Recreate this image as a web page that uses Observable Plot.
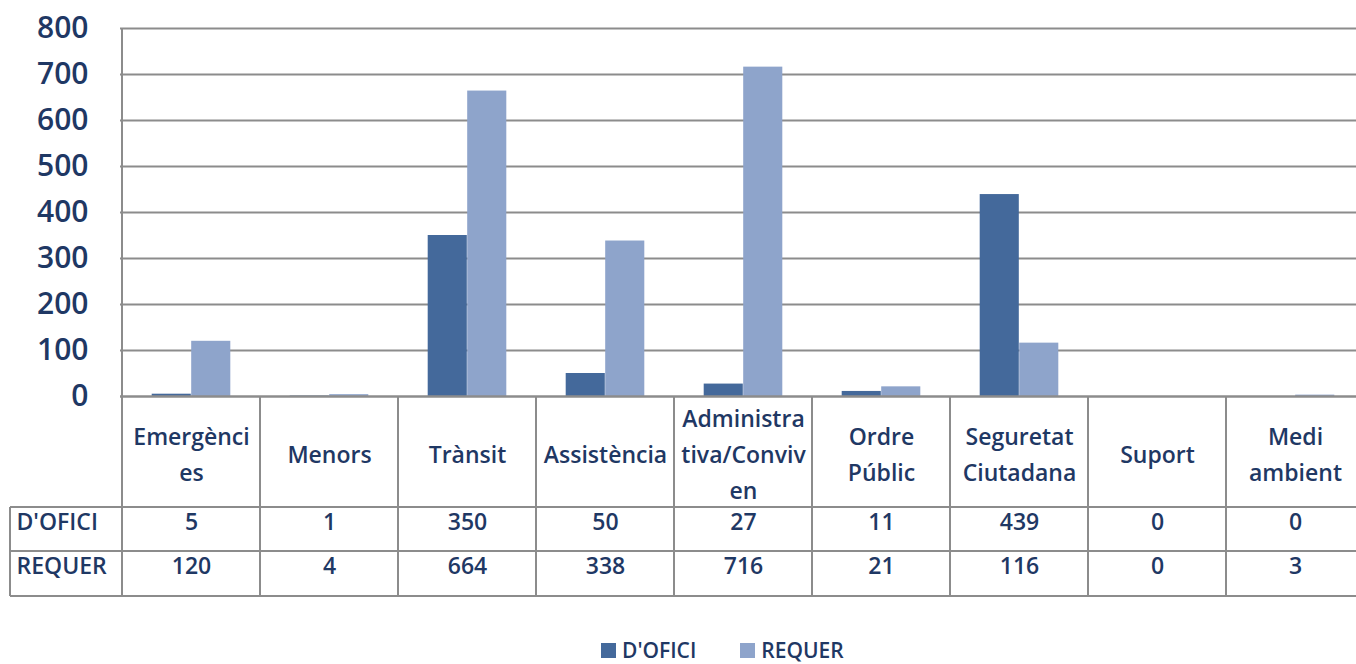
<!DOCTYPE html>
<html>
<head>
<meta charset="utf-8">
<script src="https://cdn.jsdelivr.net/npm/d3@7"></script>
<script src="https://cdn.jsdelivr.net/npm/@observablehq/plot@0.6"></script>
<style>
html, body { margin: 0; padding: 0; background: #fff; overflow: hidden; width: 1356px; height: 664px; }
#chart { position: absolute; left: 0; top: 0; width: 1356px; height: 610px; overflow: hidden; }
#chart svg { display: block; max-width: none !important; width: 1366px; height: 610px; }
.legend { position: absolute; top: 640px; left: 601px; display: flex; align-items: center;
  font-family: "Open Sans", sans-serif; font-weight: 600; font-size: 21px; line-height: 20px; color: #1f3864; }
.legend .item { display: flex; align-items: center; margin-right: 44px; }
.legend .sw { width: 15px; height: 15px; margin-right: 6px; }
</style>
</head>
<body>
<div id="chart"></div>
<div class="legend" id="legend"></div>
<script>
// ---- data ----
const categories = ["Emergènci\nes", "Menors", "Trànsit", "Assistència", "Administra\ntiva/Conviv\nen", "Ordre\nPúblic", "Seguretat\nCiutadana", "Suport", "Medi\nambient"];
const seriesNames = ["D'OFICI", "REQUER"];
const dOfici = [5, 1, 350, 50, 27, 11, 439, 0, 0];
const requer = [120, 4, 664, 338, 716, 21, 116, 0, 3];
const yTicks = [0, 100, 200, 300, 400, 500, 600, 700, 800];
const colors = ["#44699b", "#8ea4cb"];

const textColor = "#1f3864";
const lineColor = "#8c8c8c";

const rowsO = categories.map((c, i) => ({cat: c, series: seriesNames[0], value: dOfici[i]}));
const rowsR = categories.map((c, i) => ({cat: c, series: seriesNames[1], value: requer[i]}));

const W = 1366, H = 610, mT = 28, mB = 214, mL = 120;

function tableLines(index, scales, values, dimensions) {
  const x = scales.x;
  const bw = typeof x.bandwidth === "function" ? x.bandwidth() : (x(categories[1]) - x(categories[0]));
  const top = dimensions.height - dimensions.marginBottom;
  const right = dimensions.width - dimensions.marginRight;
  const g = d3.create("svg:g").attr("stroke", lineColor).attr("stroke-width", 2).attr("fill", "none");
  const rowLines = [top + 111, top + 155, top + 200];
  for (const yy of rowLines) g.append("line").attr("x1", 10).attr("x2", right).attr("y1", yy).attr("y2", yy);
  g.append("line").attr("x1", x(categories[0])).attr("x2", x(categories[0]))
    .attr("y1", dimensions.marginTop).attr("y2", top + 200);
  categories.forEach((c, i) => {
    if (i === 0) return;
    const xx = x(c);
    g.append("line").attr("x1", xx).attr("x2", xx).attr("y1", top).attr("y2", top + 200);
  });
  const xe = x(categories[categories.length - 1]) + bw;
  g.append("line").attr("x1", xe).attr("x2", xe).attr("y1", top).attr("y2", top + 200);
  g.append("line").attr("x1", 10).attr("x2", 10).attr("y1", top + 111).attr("y2", top + 200);
  return g.node();
}

const plot = Plot.plot({
  width: W,
  height: H,
  marginTop: mT,
  marginBottom: mB,
  marginLeft: mL,
  marginRight: 0,
  style: {fontFamily: "'Open Sans', sans-serif", fontWeight: 600, color: textColor, background: "#fff", maxWidth: "none"},
  x: {domain: categories, padding: 0, axis: null},
  y: {domain: [0, 800], label: null},
  marks: [
    Plot.ruleY(yTicks.filter(t => t > 0), {stroke: lineColor, strokeWidth: 2}),
    Plot.barY(rowsO, {x: "cat", y: "value", fill: colors[0], insetLeft: 29.7, insetRight: 69.2}),
    Plot.barY(rowsR, {x: "cat", y: "value", fill: colors[1], insetLeft: 69.2, insetRight: 29.7}),
    Plot.ruleY([0], {stroke: lineColor, strokeWidth: 2.5}),
    tableLines,
    Plot.axisY(yTicks, {tickSize: 0, tickPadding: 32, fontSize: 30, fill: textColor, label: null}),
    Plot.text(categories, {x: d => d, text: d => d, frameAnchor: "bottom", dy: 55, lineAnchor: "middle",
      lineHeight: 1.58, fontSize: 23, fill: textColor}),
    Plot.text(rowsO, {x: "cat", text: d => String(d.value), frameAnchor: "bottom", dy: 133, fontSize: 23, fill: textColor}),
    Plot.text(rowsR, {x: "cat", text: d => String(d.value), frameAnchor: "bottom", dy: 177, fontSize: 23, fill: textColor}),
    Plot.text([seriesNames[0]], {text: d => d, frameAnchor: "bottom-left", dx: -104, dy: 133, textAnchor: "start", fontSize: 23, fill: textColor}),
    Plot.text([seriesNames[1]], {text: d => d, frameAnchor: "bottom-left", dx: -104, dy: 177, textAnchor: "start", fontSize: 23, fill: textColor})
  ]
});
document.getElementById("chart").appendChild(plot);

const leg = document.getElementById("legend");
seriesNames.forEach((s, i) => {
  const it = document.createElement("div");
  it.className = "item";
  const sw = document.createElement("div");
  sw.className = "sw";
  sw.style.background = colors[i];
  const t = document.createElement("span");
  t.textContent = s;
  it.appendChild(sw); it.appendChild(t);
  leg.appendChild(it);
});
</script>
</body>
</html>
